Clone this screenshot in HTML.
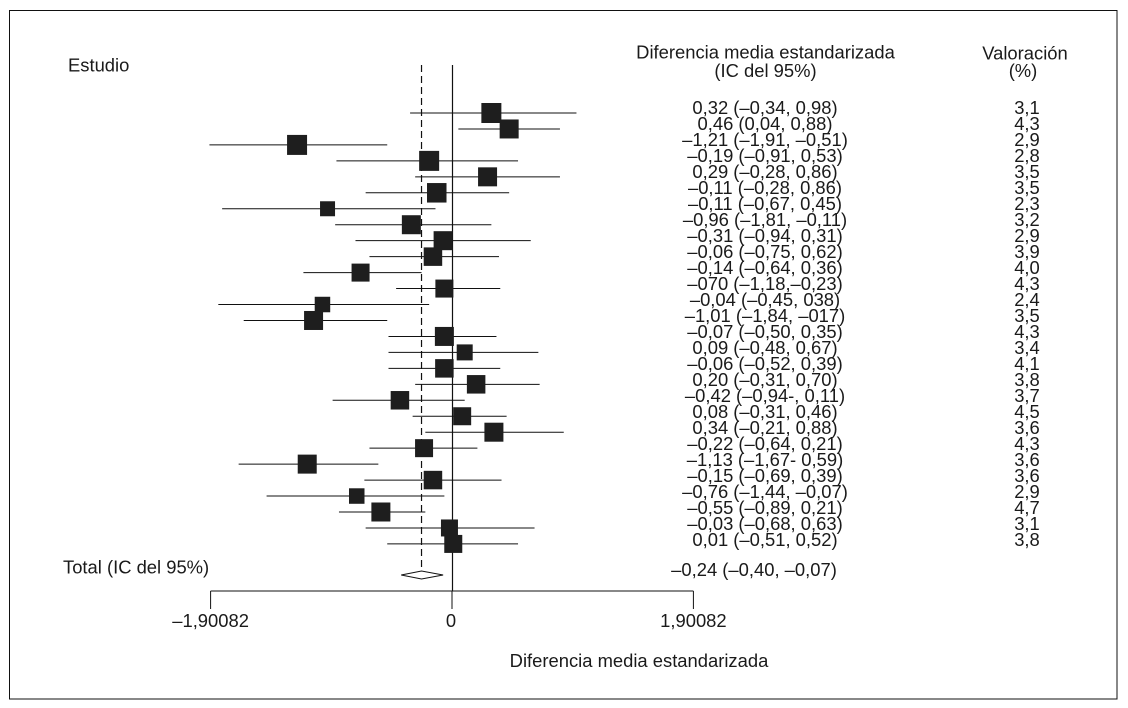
<!DOCTYPE html>
<html lang="es">
<head>
<meta charset="utf-8">
<title>Forest plot</title>
<style>
html,body{margin:0;padding:0;background:#fff;width:1128px;height:708px;overflow:hidden}
svg{display:block}
text{font-family:"Liberation Sans",sans-serif;font-size:18.4px;fill:#1a1a1a}
</style>
</head>
<body>
<svg id="chart" xmlns="http://www.w3.org/2000/svg" width="1128" height="708" viewBox="0 0 1128 708">
<rect x="9.5" y="10.5" width="1107.5" height="688.5" fill="#fff" stroke="#111" stroke-width="1"/>
<text x="68" y="71.5">Estudio</text>
<text x="765.5" y="58.5" text-anchor="middle">Diferencia media estandarizada</text>
<text x="765.5" y="77" text-anchor="middle">(IC del 95%)</text>
<text x="1025" y="59.5" text-anchor="middle">Valoración</text>
<text x="1023" y="77" text-anchor="middle">(%)</text>
<text x="63" y="573.5">Total (IC del 95%)</text>
<text x="639" y="667" text-anchor="middle">Diferencia media estandarizada</text>
<g id="marks"></g>
<g id="labels"></g>
<g id="axis"></g>
</svg>
<script>
const plotMeans = [0.31,0.45,-1.22,-0.18,0.28,-0.12,-0.98,-0.32,-0.07,-0.15,-0.72,-0.06,-1.02,-1.09,-0.06,0.10,-0.06,0.19,-0.41,0.08,0.33,-0.22,-1.14,-0.15,-0.75,-0.56,-0.02,0.01];
const plotLower = [-0.33,0.05,-1.91,-0.91,-0.29,-0.68,-1.81,-0.92,-0.76,-0.65,-1.17,-0.44,-1.84,-1.64,-0.50,-0.50,-0.50,-0.29,-0.94,-0.31,-0.21,-0.65,-1.68,-0.69,-1.46,-0.89,-0.68,-0.51];
const plotUpper = [0.98,0.85,-0.51,0.52,0.85,0.45,-0.13,0.31,0.62,0.37,-0.24,0.38,-0.18,-0.51,0.35,0.68,0.38,0.69,0.10,0.43,0.88,0.20,-0.58,0.39,-0.06,-0.21,0.65,0.52];
const plotWeights = [20,19,20,20,19,19.5,15,19,19,18.5,18,18,15.5,19,19,16,18.5,18.5,18.5,18,19,18,19,18.5,15.5,19,17,18];
const effectLabels = ["0,32 (–0,34, 0,98)","0,46 (0,04, 0,88)","–1,21 (–1,91, –0,51)","–0,19 (–0,91, 0,53)","0,29 (–0,28, 0,86)","–0,11 (–0,28, 0,86)","–0,11 (–0,67, 0,45)","–0,96 (–1,81, –0,11)","–0,31 (–0,94, 0,31)","–0,06 (–0,75, 0,62)","–0,14 (–0,64, 0,36)","–070 (–1,18,–0,23)","–0,04 (–0,45, 038)","–1,01 (–1,84, –017)","–0,07 (–0,50, 0,35)","0,09 (–0,48, 0,67)","–0,06 (–0,52, 0,39)","0,20 (–0,31, 0,70)","–0,42 (–0,94-, 0,11)","0,08 (–0,31, 0,46)","0,34 (–0,21, 0,88)","–0,22 (–0,64, 0,21)","–1,13 (–1,67- 0,59)","–0,15 (–0,69, 0,39)","–0,76 (–1,44, –0,07)","–0,55 (–0,89, 0,21)","–0,03 (–0,68, 0,63)","0,01 (–0,51, 0,52)"];
const weightLabels = ["3,1","4,3","2,9","2,8","3,5","3,5","2,3","3,2","2,9","3,9","4,0","4,3","2,4","3,5","4,3","3,4","4,1","3,8","3,7","4,5","3,6","4,3","3,6","3,6","2,9","4,7","3,1","3,8"];
const totalMean = -0.24;
const totalLower = -0.40;
const totalUpper = -0.07;
const totalLabel = ["–0,24 (–0,40, –0,07)"];
const axisTicks = [-1.90082, 0, 1.90082];
const axisTickLabels = ["–1,90082", "0", "1,90082"];

const NS = "http://www.w3.org/2000/svg";
const xScale = v => 452 + v * 127;
const rowY = i => 113 + i * 15.96;
const labelY = i => 114 + i * 16;
const marks = document.getElementById("marks");
const labels = document.getElementById("labels");
const axis = document.getElementById("axis");
const axisY = 591;

function make(parent, tag, attrs) {
  const el = document.createElementNS(NS, tag);
  for (const k in attrs) el.setAttribute(k, attrs[k]);
  parent.appendChild(el);
  return el;
}

const zeroLine = make(marks, "line", {x1: xScale(0) + 0.5, x2: xScale(0) + 0.5, y1: 65, y2: axisY, stroke: "#111", "stroke-width": 1.2});



const pooledLine = make(marks, "line", {x1: xScale(totalMean), x2: xScale(totalMean), y1: 65, y2: 575, stroke: "#111", "stroke-width": 1.2, "stroke-dasharray": "7 4"});



plotMeans.forEach((m, i) => {
  const y = rowY(i);
  const ci = make(marks, "line", {x1: xScale(plotLower[i]), x2: xScale(plotUpper[i]), y1: y, y2: y, stroke: "#111", "stroke-width": 1});
  
  
  const s = plotWeights[i];
  const box = make(marks, "rect", {x: xScale(m) - s / 2, y: y - s / 2, width: s, height: s, fill: "#1e1e1e"});
  
  
});

const dY = 575;
const diamond = make(marks, "polygon", {
  points: [xScale(totalLower) + "," + dY, xScale(totalMean) + "," + (dY - 4), xScale(totalUpper) + "," + dY, xScale(totalMean) + "," + (dY + 4)].join(" "),
  fill: "#fff", stroke: "#111", "stroke-width": 1
});



effectLabels.forEach((t, i) => {
  const el = make(labels, "text", {x: 765, y: labelY(i), "text-anchor": "middle"});
  el.textContent = t;
  
  
});
weightLabels.forEach((t, i) => {
  const el = make(labels, "text", {x: 1027, y: labelY(i), "text-anchor": "middle"});
  el.textContent = t;
  
  
});
const totalText = make(labels, "text", {x: 754, y: 576, "text-anchor": "middle"});
totalText.textContent = totalLabel[0];



const axisLine = make(axis, "line", {x1: xScale(axisTicks[0]), x2: xScale(axisTicks[axisTicks.length - 1]), y1: axisY, y2: axisY, stroke: "#111", "stroke-width": 1});


axisTicks.forEach((v, i) => {
  const tick = make(axis, "line", {x1: xScale(v), x2: xScale(v), y1: axisY, y2: axisY + 18, stroke: "#111", "stroke-width": 1});
  
  
  const lab = make(axis, "text", {x: xScale(v) + (i === 1 ? -1 : 0), y: 627, "text-anchor": "middle"});
  lab.textContent = axisTickLabels[i];
  
  
});
</script>
</body>
</html>
